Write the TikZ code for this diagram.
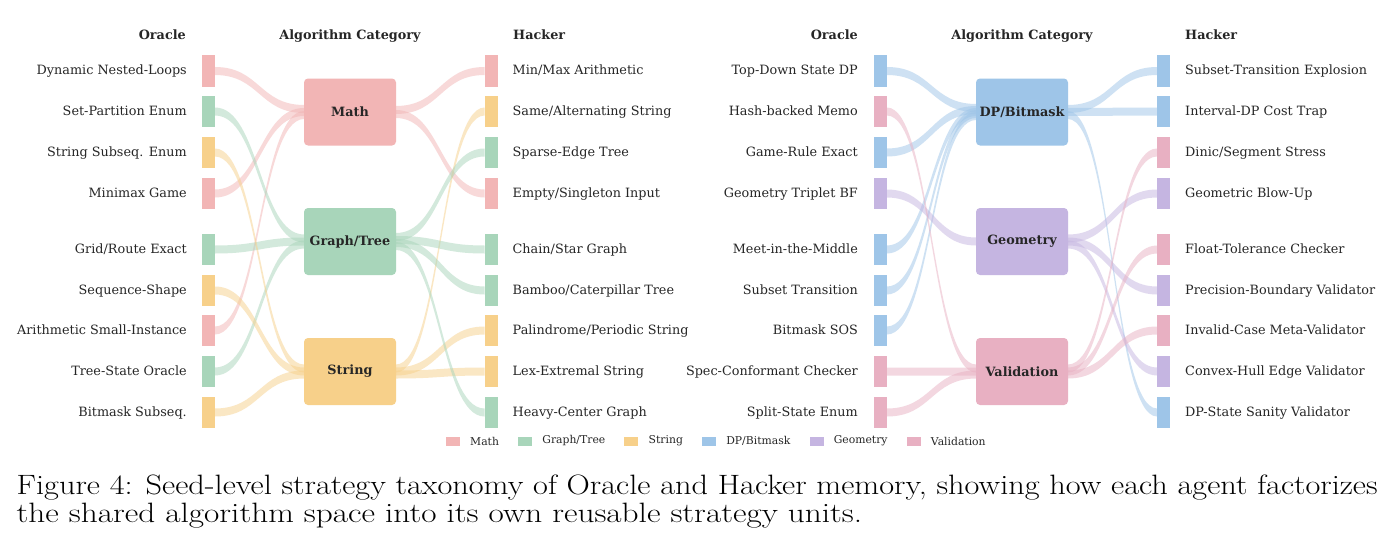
\documentclass[tikz,border=0pt]{standalone}
\usepackage{fontspec}
\usepackage{graphicx}
\usetikzlibrary{calc,positioning}
\newfontfamily\dvs{DejaVu Serif}
\definecolor{cmath}{HTML}{F2B5B5}
\definecolor{cgraph}{HTML}{A8D5BA}
\definecolor{cstr}{HTML}{F7D08A}
\definecolor{cdp}{HTML}{9EC5E8}
\definecolor{cgeo}{HTML}{C5B5E1}
\definecolor{cval}{HTML}{E8B0C2}
\definecolor{ink}{HTML}{262626}
\pgfdeclarelayer{bg}
\pgfsetlayers{bg,main}
\newcommand\flowband[4]{%
 \begin{pgfonlayer}{bg}
 \fill[#1, fill opacity=0.5] let \p1=(#2), \p2=($(#3)+(0,#4)$), \p3=($(\p1)!0.5!(\p2)$) in
  (\x1,{\y1+4pt}) .. controls (\x3,{\y1+4pt}) and (\x3,{\y2+4pt}) .. (\x2,{\y2+4pt})
  -- (\x2,{\y2-4pt}) .. controls (\x3,{\y2-4pt}) and (\x3,{\y1-4pt}) .. (\x1,{\y1-4pt}) -- cycle;
 \end{pgfonlayer}}
\tikzset{
  bar/.style={minimum width=13pt, minimum height=31pt, inner sep=0pt, outer sep=0pt, draw=none},
  lab/.style={font=\dvs\fontsize{12.8}{14}\selectfont, text=ink, inner sep=0pt},
  head/.style={font=\dvs\bfseries\fontsize{12.8}{14}\selectfont, text=ink, inner sep=0pt, anchor=base},
  cat/.style={minimum width=92pt, minimum height=67pt, rounded corners=4pt, inner sep=0pt, outer sep=0pt,
    font=\dvs\bfseries\fontsize{12.8}{14}\selectfont, text=ink},
  legsq/.style={minimum width=14pt, minimum height=9pt, inner sep=0pt, outer sep=0pt},
  leglab/.style={font=\dvs\fontsize{10.8}{12}\selectfont, text=ink, inner sep=0pt},
}
\begin{document}
\begin{tikzpicture}[x=1pt,y=-1pt]
\begin{pgfonlayer}{bg}
\fill[white] (0,0) rectangle (1394,551);
\end{pgfonlayer}
\useasboundingbox (0,0) rectangle (1394,551);
% ---------------- headers
\node[head, anchor=base east] (hOL) at (186,40) {Oracle};
\node[head] (hCL) at (350,40) {Algorithm Category};
\node[head, anchor=base west] (hHL) at (513,40) {Hacker};
\node[head, anchor=base east] (hOR) at (858,40) {Oracle};
\node[head] (hCR) at (1022,40) {Algorithm Category};
\node[head, anchor=base west] (hHR) at (1185,40) {Hacker};
% ---------------- left panel
\foreach \i/\y/\c/\t in {1/71/cmath/{Dynamic Nested-Loops},2/111.5/cgraph/{Set-Partition Enum},
  3/152.5/cstr/{String Subseq. Enum},4/193.5/cmath/{Minimax Game},5/249.5/cgraph/{Grid/Route Exact},
  6/290.5/cstr/{Sequence-Shape},7/330.5/cmath/{Arithmetic Small-Instance},8/371.5/cgraph/{Tree-State Oracle},
  9/412.5/cstr/{Bitmask Subseq.}}{
  \node[bar, fill=\c] (Lo\i) at (208.5,\y) {};
  \node[lab, anchor=base east] (Llo\i) at ($(Lo\i.west)+(-15,3.7)$) {\t};
}
\foreach \i/\y/\c/\t in {1/71/cmath/{Min/Max Arithmetic},2/111.5/cstr/{Same/Alternating String},
  3/152.5/cgraph/{Sparse-Edge Tree},4/193.5/cmath/{Empty/Singleton Input},5/249.5/cgraph/{Chain/Star Graph},
  6/290.5/cgraph/{Bamboo/Caterpillar Tree},7/330.5/cstr/{Palindrome/Periodic String},8/371.5/cstr/{Lex-Extremal String},
  9/412.5/cgraph/{Heavy-Center Graph}}{
  \node[bar, fill=\c] (Lh\i) at (491,\y) {};
  \node[lab, anchor=base west] (Llh\i) at ($(Lh\i.east)+(15,3.7)$) {\t};
}
\node[cat, fill=cmath] (Lmath) at (350,112) {Math};
\node[cat, fill=cgraph] (Lgraph) at (350,241.5) {Graph/Tree};
\node[cat, fill=cstr] (Lstr) at (350,371.5) {String};
% oracle -> category
\flowband{cmath}{Lo1.east}{Lmath.west}{-3}
\flowband{cmath}{Lo4.east}{Lmath.west}{0}
\flowband{cmath}{Lo7.east}{Lmath.west}{3}
\flowband{cgraph}{Lo2.east}{Lgraph.west}{-3}
\flowband{cgraph}{Lo5.east}{Lgraph.west}{0}
\flowband{cgraph}{Lo8.east}{Lgraph.west}{3}
\flowband{cstr}{Lo3.east}{Lstr.west}{-3}
\flowband{cstr}{Lo6.east}{Lstr.west}{0}
\flowband{cstr}{Lo9.east}{Lstr.west}{3}
% category -> hacker
\flowband{cmath}{Lh1.west}{Lmath.east}{-2}
\flowband{cmath}{Lh4.west}{Lmath.east}{2}
\flowband{cstr}{Lh2.west}{Lstr.east}{-3}
\flowband{cstr}{Lh7.west}{Lstr.east}{0}
\flowband{cstr}{Lh8.west}{Lstr.east}{3}
\flowband{cgraph}{Lh3.west}{Lgraph.east}{-4.5}
\flowband{cgraph}{Lh5.west}{Lgraph.east}{-1.5}
\flowband{cgraph}{Lh6.west}{Lgraph.east}{1.5}
\flowband{cgraph}{Lh9.west}{Lgraph.east}{4.5}
% ---------------- right panel
\foreach \i/\y/\c/\t in {1/71/cdp/{Top-Down State DP},2/111.5/cval/{Hash-backed Memo},
  3/152.5/cdp/{Game-Rule Exact},4/193.5/cgeo/{Geometry Triplet BF},5/249.5/cdp/{Meet-in-the-Middle},
  6/290.5/cdp/{Subset Transition},7/330.5/cdp/{Bitmask SOS},8/371.5/cval/{Spec-Conformant Checker},
  9/412.5/cval/{Split-State Enum}}{
  \node[bar, fill=\c] (Ro\i) at (880.5,\y) {};
  \node[lab, anchor=base east] (Rlo\i) at ($(Ro\i.west)+(-16,3.7)$) {\t};
}
\foreach \i/\y/\c/\t in {1/71/cdp/{Subset-Transition Explosion},2/111.5/cdp/{Interval-DP Cost Trap},
  3/152.5/cval/{Dinic/Segment Stress},4/193.5/cgeo/{Geometric Blow-Up},5/249.5/cval/{Float-Tolerance Checker},
  6/290.5/cgeo/{Precision-Boundary Validator},7/330.5/cval/{Invalid-Case Meta-Validator},8/371.5/cgeo/{Convex-Hull Edge Validator},
  9/412.5/cdp/{DP-State Sanity Validator}}{
  \node[bar, fill=\c] (Rh\i) at (1163.5,\y) {};
  \node[lab, anchor=base west] (Rlh\i) at ($(Rh\i.east)+(15,3.7)$) {\t};
}
\node[cat, fill=cdp] (Rdp) at (1022,112) {DP/Bitmask};
\node[cat, fill=cgeo] (Rgeo) at (1022,241.5) {Geometry};
\node[cat, fill=cval] (Rval) at (1022,371.5) {Validation};
% oracle -> category
\flowband{cdp}{Ro1.east}{Rdp.west}{-4}
\flowband{cdp}{Ro3.east}{Rdp.west}{-2}
\flowband{cdp}{Ro5.east}{Rdp.west}{0}
\flowband{cdp}{Ro6.east}{Rdp.west}{2}
\flowband{cdp}{Ro7.east}{Rdp.west}{4}
\flowband{cgeo}{Ro4.east}{Rgeo.west}{0}
\flowband{cval}{Ro2.east}{Rval.west}{-3}
\flowband{cval}{Ro8.east}{Rval.west}{0}
\flowband{cval}{Ro9.east}{Rval.west}{3}
% category -> hacker
\flowband{cdp}{Rh1.west}{Rdp.east}{-3}
\flowband{cdp}{Rh2.west}{Rdp.east}{0}
\flowband{cdp}{Rh9.west}{Rdp.east}{3}
\flowband{cgeo}{Rh4.west}{Rgeo.east}{-3}
\flowband{cgeo}{Rh6.west}{Rgeo.east}{0}
\flowband{cgeo}{Rh8.west}{Rgeo.east}{3}
\flowband{cval}{Rh3.west}{Rval.east}{-3}
\flowband{cval}{Rh5.west}{Rval.east}{0}
\flowband{cval}{Rh7.west}{Rval.east}{3}
% ---------------- legend
\node[legsq, fill=cmath] (k1) at (453,441) {};
\node[leglab, anchor=west] (kl1) at ($(k1.east)+(10,0)$) {Math};
\node[legsq, fill=cgraph, anchor=west] (k2) at ($(kl1.east)+(19,0)$) {};
\node[leglab, anchor=west] (kl2) at ($(k2.east)+(10,0)$) {Graph/Tree};
\node[legsq, fill=cstr, anchor=west] (k3) at ($(kl2.east)+(19,0)$) {};
\node[leglab, anchor=west] (kl3) at ($(k3.east)+(10,0)$) {String};
\node[legsq, fill=cdp, anchor=west] (k4) at ($(kl3.east)+(19,0)$) {};
\node[leglab, anchor=west] (kl4) at ($(k4.east)+(10,0)$) {DP/Bitmask};
\node[legsq, fill=cgeo, anchor=west] (k5) at ($(kl4.east)+(19,0)$) {};
\node[leglab, anchor=west] (kl5) at ($(k5.east)+(10,0)$) {Geometry};
\node[legsq, fill=cval, anchor=west] (k6) at ($(kl5.east)+(19,0)$) {};
\node[leglab, anchor=west] (kl6) at ($(k6.east)+(10,0)$) {Validation};
% ---------------- caption
\node[anchor=base west, inner sep=0pt] (cap1) at (16.5,494) {\resizebox{1361pt}{\height}{\fontsize{28}{30}\selectfont Figure 4: Seed-level strategy taxonomy of Oracle and Hacker memory, showing how each agent factorizes}};
\node[anchor=base west, inner sep=0pt] (cap2) at (16.5,522.7) {\resizebox{845.5pt}{\height}{\fontsize{28}{30}\selectfont the shared algorithm space into its own reusable strategy units.}};
\end{tikzpicture}
\end{document}
